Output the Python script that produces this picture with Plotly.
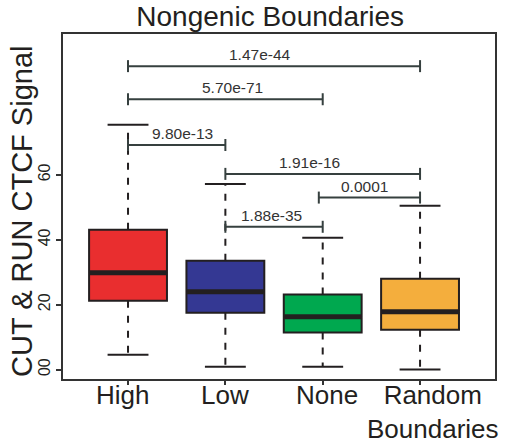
import plotly.graph_objects as go

categories = ["High", "Low", "None", "Random<br>Boundaries"]
colors = ["#E92E2F", "#343893", "#00A84F", "#F4AE3D"]
q1 = [21.2, 17.5, 11.4, 12.3]
median = [29.8, 24.0, 16.3, 17.8]
q3 = [43.1, 33.5, 23.1, 28.0]
lower_whisker = [4.6, 0.9, 0.9, 0.0]
upper_whisker = [75.4, 57.2, 40.6, 50.5]

# significance brackets: (left index, right index, y level, label, label x)
bracket_left = [0, 0, 0, 1, 1.96, 1]
bracket_right = [3, 2, 1, 3, 3, 2]
bracket_y = [93.5, 83.3, 69.2, 60.3, 53.0, 44.0]
bracket_labels = ["1.47e-44", "5.70e-71", "9.80e-13", "1.91e-16", "0.0001", "1.88e-35"]
label_x = [1.36, 1.07, 0.56, 1.86, 2.43, 1.47]

y_tickvals = [0, 20, 40, 60]
y_ticktext = ["00", "20", "40", "60"]

positions = list(range(len(categories)))
cat_label_shift = [-6, 0, 4, 13]
ink = "#231f20"
bracket_color = "#36403f"

fig = go.Figure()

for i, pos in enumerate(positions):
    # dashed whiskers
    fig.add_trace(go.Scatter(
        x=[pos, pos, None, pos, pos],
        y=[q3[i], upper_whisker[i], None, q1[i], lower_whisker[i]],
        mode="lines", line=dict(color=ink, width=2, dash="7px,8px"),
        hoverinfo="skip", showlegend=False))
    # caps
    fig.add_trace(go.Scatter(
        x=[pos - 0.21, pos + 0.21, None, pos - 0.21, pos + 0.21],
        y=[upper_whisker[i], upper_whisker[i], None, lower_whisker[i], lower_whisker[i]],
        mode="lines", line=dict(color=ink, width=2),
        hoverinfo="skip", showlegend=False))
    # box body
    fig.add_trace(go.Box(
        x=[pos], q1=[q1[i]], median=[median[i]], q3=[q3[i]],
        lowerfence=[q1[i]], upperfence=[q3[i]],
        width=0.8, whiskerwidth=0, fillcolor=colors[i],
        line=dict(color=ink, width=2), showlegend=False, hoverinfo="skip"))
    # thick median
    fig.add_trace(go.Scatter(
        x=[pos - 0.395, pos + 0.395], y=[median[i], median[i]],
        mode="lines", line=dict(color=ink, width=5),
        hoverinfo="skip", showlegend=False))
    # category label
    fig.add_annotation(x=pos, y=0, xref="x", yref="paper", text=categories[i],
                       showarrow=False, xanchor="center", yanchor="top", yshift=1,
                       xshift=cat_label_shift[i],
                       font=dict(size=26, color=ink))

tick_h = 1.85
for j in range(len(bracket_y)):
    xl, xr, yv = bracket_left[j], bracket_right[j], bracket_y[j]
    fig.add_trace(go.Scatter(
        x=[xl, xr, None, xl, xl, None, xr, xr],
        y=[yv, yv, None, yv - tick_h, yv + tick_h, None, yv - tick_h, yv + tick_h],
        mode="lines", line=dict(color=bracket_color, width=2),
        hoverinfo="skip", showlegend=False))
    fig.add_annotation(x=label_x[j], y=yv, text=bracket_labels[j], showarrow=False,
                       xanchor="center", yanchor="bottom", yshift=1,
                       font=dict(size=15.5, color="#333333"))

fig.add_annotation(text="CUT & RUN CTCF Signal", xref="paper", yref="paper",
                   x=-0.095, y=0.487, textangle=-90, showarrow=False,
                   xanchor="center", yanchor="middle",
                   font=dict(size=29, color=ink))

fig.update_layout(
    width=506, height=447,
    margin=dict(l=63, r=11, t=34, b=68, autoexpand=False),
    paper_bgcolor="white", plot_bgcolor="white",
    font=dict(family="Liberation Sans, Arial, sans-serif", color=ink),
    boxmode="overlay",
    title=dict(text="Nongenic Boundaries", x=0.534, xref="container", xanchor="center",
               y=1 - 16 / 447, yref="container", yanchor="middle",
               font=dict(size=28, color=ink)),
    xaxis=dict(range=[-0.668, 3.77], tickvals=positions, showticklabels=False,
               showgrid=False, zeroline=False, showline=True, mirror=True,
               linecolor="#333333", linewidth=2, ticks="outside", ticklen=4,
               tickcolor="#333333", tickwidth=1.5, automargin=False),
    yaxis=dict(range=[-2.9, 103.4], tickvals=y_tickvals, ticktext=y_ticktext,
               showgrid=False, zeroline=False, showline=True, mirror=True,
               linecolor="#333333", linewidth=2, ticks="outside", ticklen=5,
               tickcolor="#333333", tickwidth=1.5, tickangle=-90,
               tickfont=dict(size=16), automargin=False),
)

fig.write_html("out.html", config={"displayModeBar": False},
               post_script="document.body.style.margin='0';document.body.style.overflow='hidden';")
